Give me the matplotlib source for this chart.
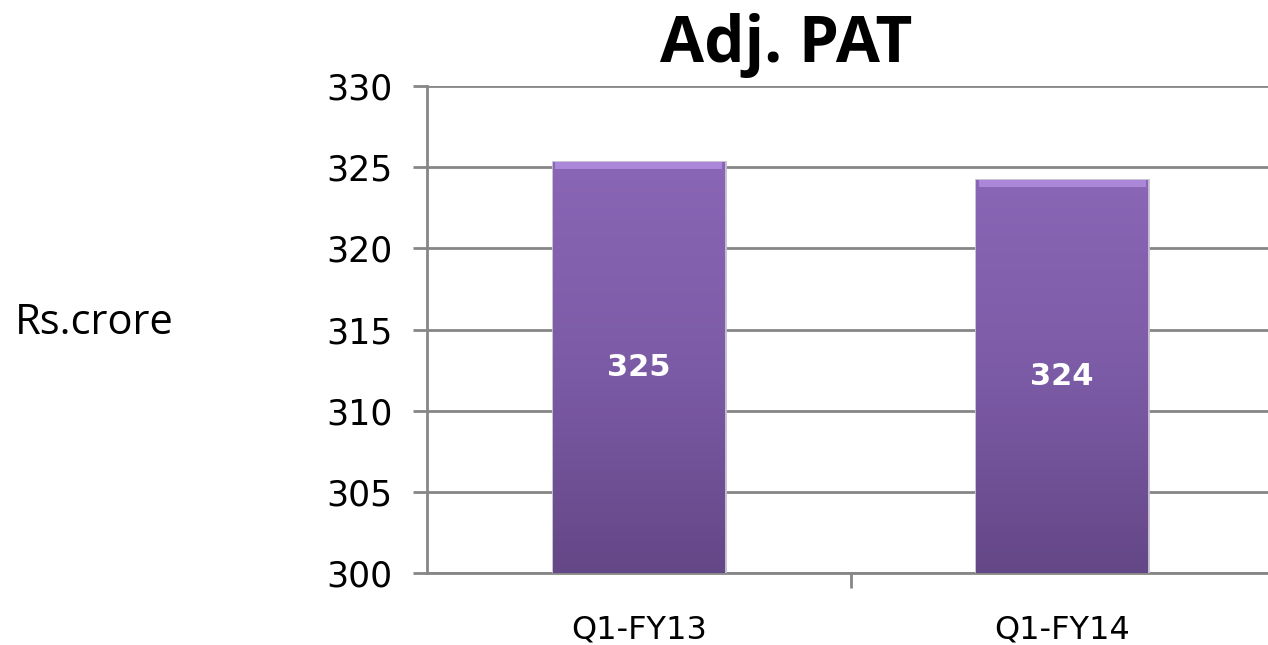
import matplotlib
matplotlib.use("Agg")
import matplotlib.pyplot as plt
import numpy as np
from matplotlib.colors import LinearSegmentedColormap

categories = ["Q1-FY13", "Q1-FY14"]
values = [325.3, 324.2]
value_labels = ["325", "324"]
yticks = [300, 305, 310, 315, 320, 325, 330]

fig = plt.figure(figsize=(12.68, 6.45), dpi=100)
ax = fig.add_axes([427/1268, (645-573)/645, (1274-427)/1268, 487/645])

x = np.arange(len(categories))
bars = ax.bar(x, values, width=0.405, bottom=0, color="#7a5aa4",
              edgecolor="#c4bccf", linewidth=2, zorder=3)
ax.set_xlim(-0.5, 1.5)
ax.set_ylim(300, 330)

cmap = LinearSegmentedColormap.from_list("g", ["#8a66b6", "#7c5ba6", "#644787"])
grad = np.linspace(0, 1, 256).reshape(-1, 1)
for b, v in zip(bars, values):
    x0 = b.get_x(); w = b.get_width()
    im = ax.imshow(grad, extent=[x0, x0 + w, 300, v], origin="upper",
                   cmap=cmap, aspect="auto", zorder=3.5)
    im.set_clip_path(b)
    # top bevel
    ax.fill_between([x0 + 0.005, x0 + w - 0.005], v - 0.4, v, color="#b08ee0",
                    zorder=4, lw=0, alpha=0.85)

for xi, v, lab in zip(x, values, value_labels):
    ax.text(xi, (300 + v) / 2, lab, ha="center", va="center", color="white",
            fontsize=22, fontweight="bold", zorder=5)

ax.set_yticks(yticks)
ax.set_yticklabels([str(t) for t in yticks], fontsize=25)
ax.set_xticks([0.5], minor=False)
ax.set_xticklabels([""])
ax.set_xticks(x, minor=True)
ax.set_xticklabels(categories, minor=True, fontsize=23)
ax.tick_params(axis="x", which="minor", length=0, pad=30)
ax.tick_params(axis="x", which="major", length=11, width=2, color="#868686")
ax.tick_params(axis="y", length=10, width=2, color="#868686", pad=15)
ax.grid(axis="y", color="#868686", linewidth=2, zorder=1)
ax.set_axisbelow(True)
for s in ["top", "right"]:
    ax.spines[s].set_visible(False)
for s in ["left", "bottom"]:
    ax.spines[s].set_color("#868686")
    ax.spines[s].set_linewidth(2)

fig.text(786/1268, 1 - 45/645, "Adj. PAT", ha="center", va="center",
         fontsize=46, fontweight="bold", family="Open Sans")
fig.text(15/1268, 1 - 323/645, "Rs.crore", ha="left", va="center",
         fontsize=30, family="Open Sans")

fig.savefig("out.png", dpi=100)
